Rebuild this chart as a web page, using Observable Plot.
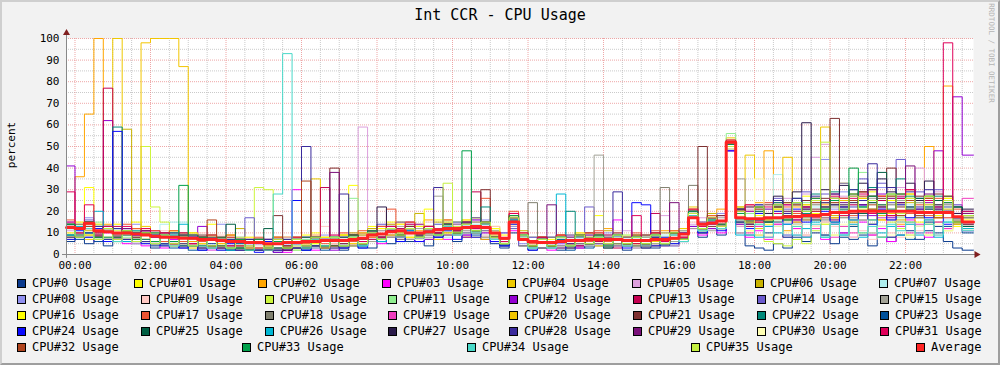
<!DOCTYPE html>
<html><head><meta charset="utf-8">
<script src="https://cdn.jsdelivr.net/npm/d3@7"></script>
<script src="https://cdn.jsdelivr.net/npm/@observablehq/plot@0.6"></script>
<style>
body{margin:0;background:#f2f2f2;}
#wrap{position:relative;width:1000px;height:365px;background:#f2f2f2;overflow:hidden;font-family:"DejaVu Sans Mono",monospace;color:#000;}
#wrap svg{position:absolute;left:0;top:0;}
.title{position:absolute;left:0;top:8px;width:1000px;text-align:center;font-size:15px;line-height:15px;}
.ylab{position:absolute;left:10.5px;top:145px;font-size:11px;line-height:11px;transform:translate(-50%,-50%) rotate(-90deg);white-space:nowrap;}
.credit{position:absolute;left:991px;top:53px;font-size:7.5px;line-height:8px;color:#b4b4b4;transform:translate(-50%,-50%) rotate(90deg);white-space:nowrap;}
.lg{position:absolute;font-size:12px;line-height:12px;white-space:nowrap;}
.sw{position:absolute;width:7px;height:7px;border:1px solid #000;}
.border{position:absolute;left:0;top:0;width:1000px;height:365px;box-sizing:border-box;border-top:2px solid #cfcfcf;border-left:2px solid #cfcfcf;border-right:2px solid #9e9e9e;border-bottom:2px solid #9e9e9e;pointer-events:none;}
</style></head><body><div id="wrap"></div>
<script>
// ---- data: 15-minute samples starting 23:45 of the previous day ----
const avg = [12.5,12,14.5,11,10.5,10,10,9.5,9,8.5,
8,8,7.5,7.5,7,7,6.5,6,6,5.5,
5.5,5,5,5.5,5.5,6,6,6.5,6.5,6.5,
7,7.5,9,9.5,10.5,11,10,10,10.5,11.5,
12,12,12.5,13,12.5,10,7.5,15,7,6,
5.5,5.5,6,6.5,6.5,7,7,7,7,6.5,
6.5,6.5,7,7,7.5,9.5,17,14,14.5,15.5,
52,17,16.5,16.5,17,17,17.5,17.5,18,18,
18.5,19.5,19.5,20,20,20,20,20,20,20,
19.5,19.5,19.5,19.5,17.5,15];
const cpu0 = [6,9,5,8,4,7,10,5,6,3, 5,7,3,6,2,5,4,2,4,3, 2,4,1,3,5,2,4,3,6,2, 4,7,3,8,5,10,6,9,4,8, 11,6,9,13,7,5,3,10,4,2, 3,5,2,6,3,4,7,3,5,2, 4,6,3,7,4,6,13,8,12,9, 48,10,4,3,2,5,3,8,6,10, 9,5,10,7,9,4,8,6,9,11, 7,11,13,6,3,2];
const cpu01 = [14,8,31,9,13,6,11,15,7,10, 4,11,6,9,3,14,5,8,2,7, 6,3,8,4,7,5,10,3,7,4, 32,9,13,6,15,10,7,14,9,16, 10,15,8,17,11,6,9,13,4,8, 3,7,4,9,5,8,18,4,9,5, 8,3,10,5,9,12,20,10,18,13, 50,22,11,18,14,24,15,12,27,19, 14,26,33,17,29,21,16,25,18,28, 15,24,19,27,13,16];
const cpu02 = [7,36,65,100,14,6,11,8,12,5, 9,4,10,6,3,8,5,2,7,4, 3,7,2,8,4,6,9,4,8,3, 5,10,6,12,8,14,7,11,16,9, 14,9,16,11,7,12,5,15,9,3, 8,4,7,3,10,5,9,12,4,8, 5,9,4,11,6,7,19,10,15,21, 53,13,20,24,48,15,11,22,16,13, 23,15,26,13,19,27,16,24,14,30, 19,50,17,78,14,18];
const cpu03 = [13,8,15,6,10,12,5,9,4,8, 3,7,9,4,8,2,6,3,7,2, 5,2,6,1,30,4,2,7,5,3, 8,4,10,5,12,7,10,6,11,8, 7,13,9,15,8,6,4,11,7,3, 6,2,5,8,3,7,4,9,16,4, 3,8,5,4,9,6,12,9,15,10, 48,15,8,11,7,14,9,12,8,13, 7,14,10,8,15,9,12,6,13,16, 10,8,15,12,19,11];
const cpu04 = [8,12,7,14,11,100,6,10,13,5, 10,4,8,3,7,9,4,7,2,6, 7,3,5,8,4,6,35,4,7,9, 4,9,12,7,11,15,8,13,10,7, 16,10,12,8,15,13,6,18,10,4, 7,3,9,5,4,10,6,3,9,5, 9,4,6,10,7,12,22,12,17,13, 54,14,46,12,19,15,24,13,22,18, 59,16,23,19,26,14,27,18,25,15, 24,14,22,26,15,19];
const cpu05 = [11,7,10,13,6,9,12,5,10,4, 8,5,3,9,6,2,8,4,6,3, 6,2,5,8,3,6,4,7,9,5, 10,59,7,11,14,8,15,7,12,9, 9,14,11,16,10,7,5,12,8,3, 8,4,3,9,5,7,10,4,8,11, 4,9,5,18,4,11,14,17,12,19, 52,13,21,15,24,17,26,19,28,45, 51,20,27,23,18,30,21,26,31,22, 40,19,29,17,23,14];
const cpu06 = [9,14,11,8,13,7,58,11,6,10, 6,9,4,10,5,8,3,9,12,4, 7,4,2,6,8,5,3,8,5,9, 10,5,12,7,14,9,13,19,7,15, 10,15,8,17,14,9,6,13,11,5, 8,4,9,3,6,10,4,11,5,8, 5,8,10,6,11,7,20,12,19,13, 51,22,14,19,15,21,16,23,17,20, 24,18,22,15,26,30,18,27,16,24, 17,23,18,21,14,17];
const cpu07 = [12,9,14,7,11,6,10,7,9,5, 14,15,15,5,8,4,7,3,6,2, 7,3,6,2,4,8,3,7,4,6, 9,4,11,8,12,9,13,8,11,14, 8,15,10,14,9,12,5,16,9,4, 7,3,8,4,9,5,10,6,4,9, 4,8,5,9,6,10,19,11,17,12, 50,21,13,20,16,37,15,23,14,22, 15,23,18,22,19,25,17,24,18,23, 24,17,21,16,19,12];
const cpu08 = [15,10,17,9,13,8,11,14,6,11, 6,9,5,8,4,9,14,3,8,4, 7,4,8,2,5,7,3,9,4,8, 5,10,7,13,9,12,14,7,12,10, 15,9,14,11,16,8,10,13,5,8, 3,8,5,7,4,9,5,10,8,4, 9,4,8,6,10,7,18,13,16,19, 51,14,22,16,19,25,17,23,20,26, 44,21,29,17,27,19,31,20,28,25, 18,27,20,24,15,19];
const cpu09 = [10,15,9,13,8,14,7,12,11,6, 11,6,9,5,10,4,9,7,3,8, 4,7,8,3,6,4,9,13,5,10, 6,10,7,13,8,14,9,12,15,8, 14,10,16,11,9,13,6,15,10,5, 8,3,9,4,10,6,9,5,11,6, 9,5,10,4,11,8,15,12,18,13, 52,10,14,9,13,7,15,9,12,16, 9,13,8,14,11,7,13,10,8,14, 11,15,9,13,17,12];
const cpu10 = [8,12,9,14,7,11,6,10,50,22, 15,5,8,4,7,3,6,2,8,4, 31,30,3,6,2,5,7,4,8,3, 8,5,10,7,12,6,13,9,10,12, 9,13,10,15,8,11,5,14,8,3, 7,3,8,5,6,9,4,8,5,9, 4,9,5,8,10,6,18,11,16,12, 49,19,13,9,6,5,4,7,5,11, 14,9,13,16,10,14,8,15,12,9, 13,9,15,11,16,12];
const cpu11 = [9,13,10,15,7,12,8,11,6,10, 5,9,6,8,4,9,3,7,5,3, 6,3,7,4,2,7,5,3,8,6, 26,5,11,6,13,9,11,7,13,10, 13,9,15,10,14,8,5,12,9,4, 8,3,7,4,9,5,8,4,10,6, 3,8,10,5,9,11,19,12,17,13, 56,15,19,14,21,16,20,15,24,18, 22,17,25,16,38,19,23,27,17,25, 18,25,19,22,15,12];
const cpu12 = [41,10,14,8,62,7,12,6,11,5, 10,5,8,4,13,3,7,2,6,3, 2,7,1,6,3,8,4,7,2,8, 9,4,10,7,13,8,11,14,7,12, 9,14,8,16,10,7,5,17,9,3, 7,4,3,8,4,9,5,8,4,7, 8,3,9,5,10,7,13,15,12,18, 52,14,20,13,21,15,23,16,22,17, 24,16,26,19,23,18,28,17,26,22, 19,24,48,20,73,46];
const cpu13 = [15,10,12,8,77,13,7,12,6,11, 5,10,4,8,5,9,3,8,4,6, 3,6,8,4,7,3,7,31,4,7, 5,10,7,13,9,12,15,7,13,9, 14,10,15,29,12,8,6,19,9,4, 8,3,9,5,4,10,6,9,3,8, 5,9,19,5,10,8,20,13,17,12, 53,21,13,22,15,24,19,16,25,20, 17,28,19,23,29,20,25,18,27,30, 20,26,21,24,15,19];
const cpu14 = [14,9,16,8,13,7,12,11,6,10, 5,10,4,9,3,7,8,3,6,17, 2,7,3,6,8,3,8,4,7,5, 9,5,11,14,8,15,7,13,9,14, 11,15,10,17,11,8,10,12,4,8, 3,8,4,9,5,22,9,4,10,5, 8,4,9,6,10,7,20,12,18,13, 51,20,15,23,17,26,21,24,29,25, 28,23,33,22,35,25,33,24,44,26, 29,21,30,22,23,14];
const cpu15 = [8,13,10,12,7,10,6,11,5,9, 4,8,5,7,3,7,2,6,3,6, 7,2,5,3,6,8,4,7,3,8, 4,9,6,11,8,13,7,12,8,27, 9,14,11,15,8,11,4,16,9,3, 7,3,8,4,9,4,46,9,4,8, 4,8,5,10,6,11,12,15,11,17, 50,35,14,21,15,22,16,23,17,24, 17,22,19,25,18,26,19,16,25,17, 24,16,23,19,14,17];
const cpu16 = [10,15,12,13,8,14,9,12,7,10, 6,11,5,10,5,8,4,9,3,8, 7,4,8,3,6,9,5,8,4,9, 5,10,8,12,9,14,8,13,21,10, 15,11,16,10,14,12,6,18,9,4, 8,4,9,5,10,5,10,5,9,4, 9,4,10,5,11,7,21,12,18,13, 50,20,15,22,17,21,24,19,23,26, 21,25,18,28,20,29,22,19,28,26, 19,27,18,26,16,19];
const cpu17 = [16,10,15,9,13,8,14,12,7,11, 6,11,6,9,6,9,4,9,4,7, 8,3,8,3,8,5,8,5,4,10, 6,11,8,13,21,9,15,10,13,11, 16,11,15,12,26,10,7,20,10,5, 8,4,8,6,9,6,11,6,10,5, 10,5,11,6,11,8,21,13,18,14, 52,16,23,15,24,17,22,19,25,17, 25,17,26,18,27,19,23,20,24,19, 23,18,26,17,21,13];
const cpu18 = [9,14,8,11,13,6,11,8,10,5, 9,4,10,4,7,4,7,2,7,2, 6,3,6,3,6,3,7,4,7,4, 8,5,11,6,12,7,13,8,11,9, 13,10,13,10,15,7,4,15,8,24, 3,8,3,8,5,8,5,8,5,8, 4,9,4,31,5,10,32,11,17,12, 49,19,14,19,15,22,16,20,16,23, 16,24,17,25,16,24,20,23,18,22, 17,22,19,23,14,17];
const cpu19 = [15,9,14,8,11,8,11,6,11,5, 9,6,8,5,8,3,8,3,6,3, 6,3,7,2,7,4,7,4,7,4, 9,4,10,8,11,9,12,7,12,9, 13,10,14,11,13,8,5,16,8,4, 7,3,8,4,8,5,8,5,9,4, 8,4,9,5,9,6,19,11,17,12, 50,17,10,13,8,14,8,15,9,12, 15,8,13,10,16,9,17,8,13,10, 14,10,15,12,19,26];
const cpu20 = [8,12,9,13,7,10,7,11,98,100, 100,100,87,5,8,3,8,3,6,3, 6,3,6,3,8,3,8,3,8,4, 9,6,11,8,11,9,12,8,13,10, 14,9,15,10,14,7,5,16,9,4, 7,4,8,3,8,5,9,4,9,5, 8,5,8,6,10,7,19,12,16,13, 51,21,14,19,16,20,45,15,23,16, 24,17,25,20,26,16,27,19,23,28, 19,26,17,25,14,18];
const cpu21 = [14,9,15,10,12,9,11,8,11,6, 10,5,9,4,9,4,7,4,7,3, 7,2,18,4,7,4,7,4,40,5, 9,6,11,8,13,8,13,8,13,10, 14,11,14,12,30,8,6,17,9,4, 8,3,8,5,8,5,9,4,9,6, 9,4,10,5,10,7,20,50,13,18, 52,15,22,16,23,17,24,18,25,21, 26,63,22,19,29,21,26,40,22,25, 27,19,28,20,22,14];
const cpu22 = [9,12,10,13,8,59,7,10,7,10, 5,10,4,9,4,7,4,7,3,6, 7,2,7,3,6,4,7,4,7,4, 9,4,10,7,12,9,12,7,12,9, 13,10,14,11,22,8,5,16,9,3, 7,4,8,20,9,4,9,4,9,5, 8,5,9,5,10,7,19,12,16,13, 51,21,14,22,15,24,17,26,19,28, 21,29,20,30,22,31,23,21,35,22, 26,22,27,19,22,13];
const cpu23 = [12,7,13,6,11,6,9,6,9,4, 8,3,8,2,7,3,6,2,5,2, 5,2,5,2,5,2,7,2,7,3, 8,3,9,6,11,6,12,7,10,8, 12,9,12,9,14,7,4,15,8,3, 6,3,7,2,8,3,8,3,8,4, 7,3,8,4,9,6,18,10,15,12, 49,15,9,16,10,13,8,14,8,16, 9,14,8,13,16,10,13,8,15,7, 13,15,10,13,16,10];
const cpu24 = [7,11,8,12,6,57,6,9,5,8, 4,8,3,8,2,7,2,5,2,5, 1,6,2,5,25,2,6,3,6,3, 7,3,9,6,11,6,11,6,11,8, 12,7,13,8,13,6,4,14,7,2, 6,3,6,3,7,4,7,4,8,3, 24,23,4,8,5,10,17,10,14,11, 48,17,12,19,13,20,14,21,15,18, 20,15,22,16,23,14,21,16,23,17, 21,17,22,14,17,11];
const cpu25 = [14,9,15,8,13,8,11,7,10,6, 9,6,9,4,8,3,8,14,3,7, 2,12,3,7,3,8,4,7,4,8, 9,5,11,8,12,9,12,9,12,10, 14,11,14,11,14,8,5,17,9,4, 7,4,8,4,9,5,9,5,9,5, 8,5,9,5,10,7,20,12,17,14, 50,21,16,20,17,22,19,24,21,25, 22,26,21,28,19,24,38,20,28,21, 26,21,25,20,22,13];
const cpu26 = [9,13,10,20,7,12,6,11,6,9, 5,9,14,4,8,3,7,2,7,2, 6,2,6,3,6,3,8,3,8,4, 8,4,11,6,12,8,11,7,12,9, 13,10,13,11,14,7,5,16,8,3, 7,3,28,4,8,5,8,5,8,4, 8,4,9,5,9,6,19,11,16,12, 50,9,15,8,13,10,14,9,12,15, 8,15,9,14,8,16,10,13,9,14, 9,16,8,15,17,12];
const cpu27 = [13,9,12,7,12,7,10,6,10,5, 9,5,8,4,7,3,7,3,6,2, 6,2,7,2,7,3,8,3,8,4, 9,5,10,22,12,8,12,8,12,9, 13,10,14,10,14,8,5,16,9,4, 7,4,8,4,8,5,9,5,9,4, 8,4,9,5,10,7,18,12,16,13, 51,20,15,22,19,27,18,29,61,25, 30,23,32,24,33,27,35,29,24,33, 25,34,23,27,19,21];
const cpu28 = [8,12,10,13,7,12,7,10,6,9, 5,8,5,8,3,8,3,7,2,7, 2,7,2,7,3,50,4,7,3,28, 9,5,11,7,12,9,12,8,11,31, 14,9,15,10,15,8,5,16,9,4, 7,4,8,5,8,5,9,5,29,5, 8,5,8,5,10,7,19,12,17,13, 52,20,15,23,17,25,19,26,22,27, 24,28,23,30,25,42,22,31,26,29, 22,30,21,25,17,20];
const cpu29 = [13,8,14,9,12,7,12,6,11,6, 9,6,8,5,8,4,7,3,7,2, 7,2,7,2,7,3,8,4,38,4, 9,5,10,8,11,9,12,9,12,10, 14,10,15,10,15,8,5,17,9,4, 7,23,8,4,9,5,9,4,9,5, 8,5,9,5,24,7,20,12,17,13, 51,21,14,22,15,23,20,24,21,25, 22,26,24,27,23,30,22,26,24,41, 21,28,20,25,16,19];
const cpu30 = [12,9,12,7,11,6,11,6,9,5, 9,4,8,4,7,3,7,3,6,3, 6,3,6,3,7,3,7,4,8,4, 8,5,10,7,12,8,12,7,12,9, 13,9,14,10,14,7,5,15,8,3, 7,3,8,4,8,4,9,4,8,4, 8,4,9,5,9,6,17,11,16,12, 49,18,11,35,9,13,10,14,9,13, 15,9,14,8,16,10,13,9,15,8, 13,9,14,11,16,11];
const cpu31 = [29,12,23,10,13,8,13,7,12,6, 10,5,10,5,8,4,7,4,7,3, 7,3,6,3,8,3,8,3,9,4, 9,6,11,8,13,8,14,8,13,10, 14,11,14,12,15,8,6,19,10,4, 8,4,9,4,9,5,10,5,9,5, 18,4,10,6,10,8,21,13,17,14, 52,20,23,15,22,19,23,20,22,26, 19,27,18,26,28,19,27,18,26,30, 20,25,22,98,17,20];
const cpu32 = [13,9,13,8,12,7,11,7,10,6, 9,5,8,4,8,16,7,3,7,2, 7,2,7,3,7,34,7,4,7,4, 9,5,10,7,12,9,12,8,12,9, 13,10,14,11,14,8,5,18,9,4, 7,4,8,4,8,5,9,5,9,5, 8,5,9,5,10,7,19,12,16,13, 50,20,15,21,16,22,17,23,18,24, 18,24,19,25,20,23,19,27,18,25, 18,26,17,25,15,18];
const cpu33 = [14,8,15,8,12,8,11,7,10,6, 9,6,32,4,8,4,7,3,7,2, 7,3,6,3,7,3,8,4,8,4, 9,5,11,7,12,9,12,8,12,9, 14,10,48,11,15,8,5,18,9,4, 7,4,8,4,9,5,9,4,9,5, 8,5,9,5,10,7,20,12,16,14, 51,19,16,22,15,23,16,24,20,26, 21,25,20,40,22,27,19,28,20,27, 19,27,20,24,15,18];
const cpu34 = [12,9,12,7,11,6,10,6,9,5, 9,4,8,4,7,3,7,3,6,2, 6,2,28,93,7,3,7,4,8,4, 8,4,10,7,12,8,12,8,11,9, 13,9,14,10,14,7,5,16,9,3, 7,3,8,4,8,5,8,5,9,4, 8,4,9,5,9,6,18,11,16,12, 50,16,9,14,8,15,9,13,8,14, 8,14,9,16,10,13,8,14,11,15, 10,14,9,15,17,11];
const cpu35 = [13,8,14,7,12,7,11,6,10,5, 9,5,8,4,7,4,7,3,6,3, 6,3,7,3,7,4,8,3,8,4, 8,5,10,7,12,9,12,8,12,9, 33,10,14,11,15,8,5,17,9,4, 7,4,8,4,9,5,8,5,9,5, 8,5,9,5,10,7,19,12,17,13, 50,20,15,22,16,23,17,24,20,25, 52,26,19,27,21,25,20,28,19,26, 20,27,19,25,15,18];

const seriesNames = ["CPU#0 Usage","CPU#01 Usage","CPU#02 Usage","CPU#03 Usage","CPU#04 Usage","CPU#05 Usage","CPU#06 Usage","CPU#07 Usage",
"CPU#08 Usage","CPU#09 Usage","CPU#10 Usage","CPU#11 Usage","CPU#12 Usage","CPU#13 Usage","CPU#14 Usage","CPU#15 Usage",
"CPU#16 Usage","CPU#17 Usage","CPU#18 Usage","CPU#19 Usage","CPU#20 Usage","CPU#21 Usage","CPU#22 Usage","CPU#23 Usage",
"CPU#24 Usage","CPU#25 Usage","CPU#26 Usage","CPU#27 Usage","CPU#28 Usage","CPU#29 Usage","CPU#30 Usage","CPU#31 Usage",
"CPU#32 Usage","CPU#33 Usage","CPU#34 Usage","CPU#35 Usage"];
const seriesColors = ["#0a3a8e","#ffff00","#ffa500","#ff00ff","#eec900","#dda0dd","#c9b300","#aeeeee",
"#9090f0","#ffc9c4","#ccf53d","#90ee90","#9400d3","#c40050","#6a5acd","#a2a296",
"#ffff00","#ee5533","#7f7f6e","#f03cbe","#f2c500","#7e3030","#00897a","#00519c",
"#0a0aff","#005f43","#00b7d4","#2a1a4a","#3a2a9c","#7a107a","#ffffb3","#e0005a",
"#b0441e","#00a04a","#48d8c8","#c4f040"];
const avgName = "Average";
const avgColor = "#ff2323";
const titleText = "Int CCR - CPU Usage";
const yTitle = "percent";
const creditText = "RRDTOOL / TOBI OETIKER";
const yTicks = [0,10,20,30,40,50,60,70,80,90,100];

const seriesValues = [cpu0,cpu01,cpu02,cpu03,cpu04,cpu05,cpu06,cpu07,cpu08,cpu09,cpu10,cpu11,cpu12,cpu13,cpu14,cpu15,
cpu16,cpu17,cpu18,cpu19,cpu20,cpu21,cpu22,cpu23,cpu24,cpu25,cpu26,cpu27,cpu28,cpu29,cpu30,cpu31,cpu32,cpu33,cpu34,cpu35];

// ---- time axis ----
const MIN = 60000, HOUR = 3600000;
const midnight = Date.UTC(2024, 0, 2);
const domainStart = new Date(midnight - 0.225 * HOUR);
const domainEnd = new Date(midnight + 23.8 * HOUR);
const stepMinutes = 15, firstOffsetMin = -15;

function toRows(values) {
  const rows = values.map((v, i) => {
    let t = midnight + (firstOffsetMin + i * stepMinutes) * MIN;
    if (t < +domainStart) t = +domainStart;
    return {t: new Date(t), v};
  });
  rows.push({t: domainEnd, v: values[values.length - 1]});
  return rows;
}

const majorX = d3.utcHour.every(2).range(domainStart, domainEnd);
const minorX = d3.utcMinute.every(30).range(domainStart, domainEnd).filter(d => d.getUTCMinutes() !== 0 || d.getUTCHours() % 2 !== 0);
const majorY = yTicks;
const minorY = d3.range(5, 100, 10);

const pxH = 907 / 24.025; // pixels per hour
const marks = [
  Plot.frame({fill: "#ffffff", stroke: "none"}),
  Plot.ruleX(minorX, {stroke: "#b8b8b8", strokeDasharray: "1,1", strokeOpacity: 0.75}),
  Plot.ruleY(minorY, {stroke: "#b8b8b8", strokeDasharray: "1,1", strokeOpacity: 0.75}),
  Plot.ruleX(majorX, {stroke: "#e88a8a", strokeDasharray: "1,1", strokeOpacity: 0.75}),
  Plot.ruleY(majorY.filter(d => d > 0), {stroke: "#e88a8a", strokeDasharray: "1,1", strokeOpacity: 0.75}),
  ...seriesValues.map((vals, k) => Plot.line(toRows(vals), {x: "t", y: "v", stroke: seriesColors[k], strokeWidth: 1, curve: "step-after"})),
  Plot.line(toRows(avg), {x: "t", y: "v", stroke: avgColor, strokeWidth: 3, curve: "step-after"}),
  Plot.ruleX([domainStart], {y1: -1.8, y2: 102, stroke: "#888", strokeWidth: 1}),
  Plot.ruleY([0], {x1: new Date(+domainStart - 4 / pxH * HOUR), x2: new Date(+domainEnd + 2 / pxH * HOUR), stroke: "#888", strokeWidth: 1}),
  Plot.dot([{t: domainStart, v: 102.5}], {x: "t", y: "v", symbol: "triangle", r: 2.6, fill: "#801f1f", stroke: "none"}),
  Plot.dot([{t: new Date(+domainEnd + 3 / pxH * HOUR), v: 0}], {x: "t", y: "v", symbol: "triangle", r: 2.6, fill: "#801f1f", stroke: "none", rotate: 90})
];

const chart = Plot.plot({
  width: 1000, height: 365,
  marginLeft: 66, marginRight: 27, marginTop: 38, marginBottom: 111,
  style: {background: "transparent", fontFamily: "DejaVu Sans Mono", fontSize: "11px", color: "#000", overflow: "visible"},
  x: {type: "utc", domain: [domainStart, domainEnd], ticks: majorX, tickFormat: d3.utcFormat("%H:%M"), tickSize: 0, tickPadding: 7, label: null},
  y: {domain: [0, 100], ticks: yTicks, tickSize: 0, tickPadding: 7, label: null},
  marks
});

const wrap = document.getElementById("wrap");
wrap.appendChild(chart);

function addDiv(cls, text, styles) {
  const d = document.createElement("div");
  d.className = cls;
  if (text != null) d.textContent = text;
  Object.assign(d.style, styles || {});
  wrap.appendChild(d);
  return d;
}
addDiv("title", titleText);
addDiv("ylab", yTitle);
addDiv("credit", creditText);

// ---- legend ----
const legendRowsY = [283, 299, 315, 331, 347];
const row1X = [17, 134, 258, 382, 507, 632, 755, 879];
const rowX = [17, 141, 265, 388, 509, 633, 757, 880];
const row5X = [17, 242, 467, 691, 916];
const legendItems = seriesNames.map((n, k) => ({name: n, color: seriesColors[k]})).concat([{name: avgName, color: avgColor}]);
legendItems.forEach((it, k) => {
  let row, x;
  if (k < 32) { row = Math.floor(k / 8); x = (row === 0 ? row1X : rowX)[k % 8]; }
  else { row = 4; x = row5X[k - 32]; }
  const cy = legendRowsY[row];
  addDiv("sw", null, {left: x + "px", top: (cy - 4.5) + "px", background: it.color});
  addDiv("lg", it.name, {left: (x + 15) + "px", top: (cy - 6) + "px"});
});
addDiv("border", null);
</script></body></html>
